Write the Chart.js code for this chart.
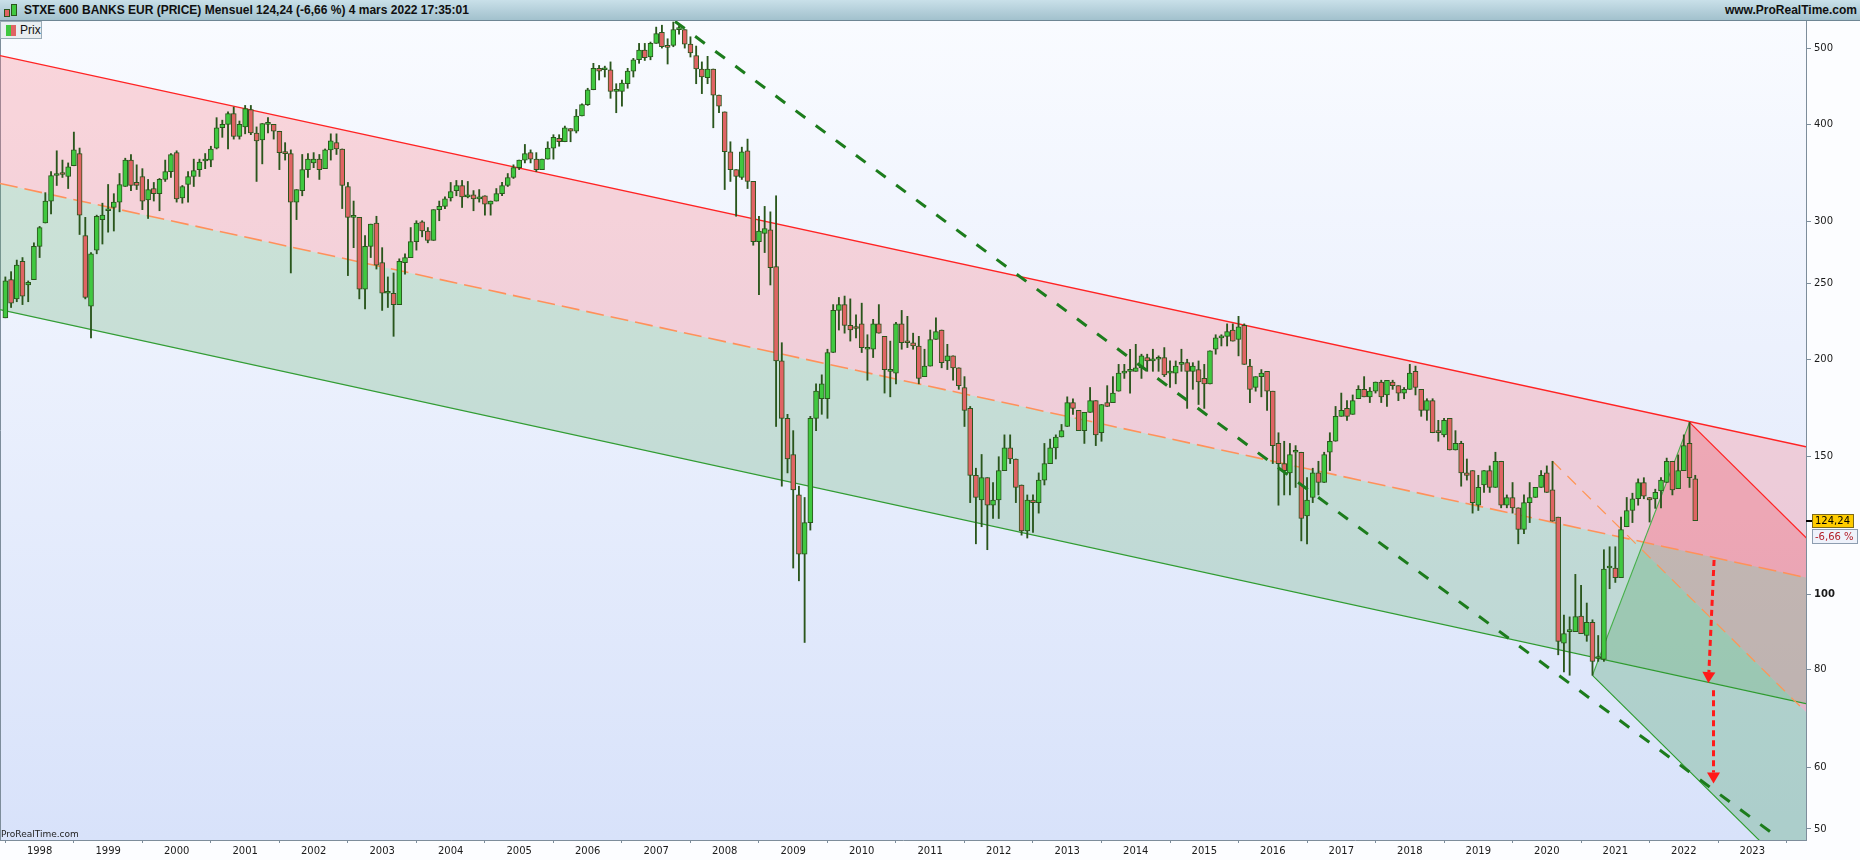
<!DOCTYPE html>
<html lang="fr">
<head>
<meta charset="utf-8">
<title>STXE 600 BANKS EUR (PRICE) Mensuel</title>
<script src="https://cdn.jsdelivr.net/npm/chart.js@4.4.1/dist/chart.umd.min.js"></script>
<style>
  html, body { margin:0; padding:0; background:#fcfdff; }
  #wrap { position:relative; width:1860px; height:860px; overflow:hidden; background:#fcfdff; }
  #chartBox { position:absolute; left:0; top:0; width:1860px; height:860px; }
  #hdr { position:absolute; left:0; top:0; width:1860px; height:21px; box-sizing:border-box;
         background:linear-gradient(#c9e0e9,#a2c1cd); border-bottom:1px solid #6e8694;
         font:bold 12px 'Liberation Sans', Arial, sans-serif; color:#101010; }
  #hdr .t { position:absolute; left:24px; top:4px; white-space:nowrap; line-height:13px; }
  #hdr .r { position:absolute; right:3px; top:4px; white-space:nowrap; line-height:13px; }
  .ic { position:absolute; box-sizing:border-box; border:1px solid #2a561c; }
  #prix { position:absolute; left:0; top:21px; width:42px; height:18px; box-sizing:border-box;
          background:#e9eef1; border:1px solid #9aabb6; font:12px 'Liberation Sans', Arial, sans-serif; color:#111; }
  #prix .g { position:absolute; left:5px; top:3px; width:5px; height:11px; background:#40c840; }
  #prix .rr { position:absolute; left:10px; top:3px; width:5px; height:11px; background:#e06464; }
  #prix .tx { position:absolute; left:19px; top:1px; line-height:14px; }
  #foot { position:absolute; left:1px; top:829px; font:9px 'DejaVu Sans', sans-serif; color:#222; }
</style>
</head>
<body>
<div id="wrap">
  <div id="chartBox"><canvas id="c"></canvas></div>
  <div id="hdr">
    <div class="ic" style="left:4px;top:9px;width:6px;height:8px;background:#e06464;"></div>
    <div class="ic" style="left:11px;top:4px;width:6px;height:12px;background:#40c840;"></div>
    <div class="t">STXE 600 BANKS EUR (PRICE) Mensuel 124,24 (-6,66 %) 4 mars 2022 17:35:01</div>
    <div class="r">www.ProRealTime.com</div>
  </div>
  <div id="prix"><div class="g"></div><div class="rr"></div><div class="tx">Prix</div></div>
  <div id="foot">ProRealTime.com</div>
</div>
<script>
// ---------------- DATA (monthly candles, first = July 1997) ----------------
const startYear = 1997, startMonth = 7;
const open = [
  /*1997*/ 226,253,239,267,249,253,
  /*1998*/ 279,299,319,344,347,343,354,367,288,234,276,302,
  /*1999*/ 310,313,318,333,360,337,343,320,331,326,340,348,
  /*2000*/ 368,322,335,343,350,359,360,373,396,400,413,386,
  /*2001*/ 397,418,390,382,400,400,392,368,367,318,329,350,
  /*2002*/ 357,361,351,371,379,372,333,304,304,246,279,299,
  /*2003*/ 266,243,243,235,266,270,283,300,292,284,311,314,
  /*2004*/ 322,329,334,323,325,321,324,316,319,326,334,342,
  /*2005*/ 352,360,368,361,350,361,373,384,380,395,392,410,
  /*2006*/ 424,443,472,470,470,441,441,451,468,484,498,488,
  /*2007*/ 508,525,504,505,529,529,507,490,471,459,471,436,
  /*2008*/ 415,369,350,342,370,338,283,290,293,263,199,168,
  /*2009*/ 151,134,112.5,123.5,168,178,178,204,231,235,221,220,
  /*2010*/ 222,206,206,222,214,193,192,222,211,210,208,190,
  /*2011*/ 196,212,218,199,202,195,184,173,142,132,141,130,
  /*2012*/ 132,144,154,149,138,120.5,132,131,140,147,154,159,
  /*2013*/ 164,176,172,162,171,177,161,176,176,182,192,193,
  /*2014*/ 193,195,201,199,200,201,192,192,197,198,193,194,
  /*2015*/ 189,186,206,213,214,218,212,221,196,184,190,193,
  /*2016*/ 182,156,147,143,152,152,126,133,143,139,152,157,
  /*2017*/ 169,173,170,178,183,179,182,187,180,187,185,181,
  /*2018*/ 183,193,183,172,177,162,160,168,153,156,143,144,
  /*2019*/ 130,138,144,137,148,130,133,129,121,131,133,137,
  /*2020*/ 143,136,125.5,86.5,89.5,89.5,93.7,88.5,92,82.7,82.5,108,
  /*2021*/ 108,105,122,128,132.5,139,133,132.4,135.6,139,148,136.5,
  /*2022*/ 144,156,140.5
];
const high = [
  /*1997*/ 255,259,268,270,252,282,
  /*1998*/ 296,327,348,370,360,357,391,373,304,274,306,317,
  /*1999*/ 335,326,346,362,366,355,351,340,337,341,360,367,
  /*2000*/ 370,334,348,361,361,367,375,408,405,415,421,404,
  /*2001*/ 423,423,397,401,408,400,392,379,371,330,366,367,
  /*2002*/ 368,366,372,389,389,372,337,319,304,288,298,305,
  /*2003*/ 278,255,258,269,273,295,301,301,295,311,319,323,
  /*2004*/ 337,339,339,338,329,330,324,319,331,337,346,355,
  /*2005*/ 360,377,371,368,361,380,388,388,398,395,418,425,
  /*2006*/ 445,479,476,475,481,451,456,472,486,508,508,510,
  /*2007*/ 533,536,515,541,535,529,518,504,481,489,471,436,
  /*2008*/ 415,380,350,374,383,338,305,314,309,324,210,170,
  /*2009*/ 162,137.5,133,169,186,191,206,235,240,241,239,228,
  /*2010*/ 236,215,225,235,214,211,223,231,227,216,214,206,
  /*2011*/ 218,226,218,209,202,195,190,174,145,151,141,139,
  /*2012*/ 150,160,160,149,138,134,134,143,156,158,160,165,
  /*2013*/ 179,178,172,171,184,177,175,185,190,197,197,206,
  /*2014*/ 209,203,203,206,202,207,199,199,206,200,198,199,
  /*2015*/ 197,205,215,215,222,222,227,222,200,190,194,193,
  /*2016*/ 182,161,157,156,155,152,141,145,148,152,161,174,
  /*2017*/ 181,177,180,185,190,184,187,188,188,188,185,184,
  /*2018*/ 197,196,183,178,178,167,168,168,162,157,149,144,
  /*2019*/ 142,144,146,152,148,134,139,129,134,139,137,144,
  /*2020*/ 146,148,125.5,94,93.5,106,102.6,97.4,92.7,88.5,114,115,
  /*2021*/ 115,125.5,133,134.7,140.5,141,133,136.3,141,149.4,148,150.8,
  /*2022*/ 160,166,142
];
const low = [
  /*1997*/ 226,233,237,235,237,253,
  /*1998*/ 270,299,307,334,342,331,354,289,239,213,273,281,
  /*1999*/ 291,292,309,333,329,330,311,303,319,310,338,342,
  /*2000*/ 318,317,318,333,343,351,353,372,385,372,383,383,
  /*2001*/ 389,388,338,356,390,383,350,360,258,302,324,342,
  /*2002*/ 352,340,351,360,366,312,256,278,239,232,270,261,
  /*2003*/ 231,233,214,235,257,270,276,287,282,284,301,312,
  /*2004*/ 319,324,313,322,310,318,306,306,319,324,333,341,
  /*2005*/ 350,357,357,348,350,361,361,375,380,380,390,410,
  /*2006*/ 423,443,456,460,432,414,422,445,460,479,483,484,
  /*2007*/ 508,501,478,503,522,501,488,451,438,451,396,414,
  /*2008*/ 330,338,305,340,331,280,242,274,249,164,137.5,143,
  /*2009*/ 108,104,86.7,120.8,162,170,168,204,218,216,211,213,
  /*2010*/ 204,188,201,216,181,179,186,206,207,206,186,190,
  /*2011*/ 196,212,195,194,188,183,164,131,116,122,114,125,
  /*2012*/ 125,144,147,131,119,118,120,127,138,147,149,159,
  /*2013*/ 164,170,162,156,171,155,157,174,176,182,189,181,
  /*2014*/ 193,189,193,193,193,190,184,186,193,173,183,175,
  /*2015*/ 173,186,203,208,208,211,202,197,176,182,179,172,
  /*2016*/ 147,130,134,134,137,117,116,131,134,139,144,157,
  /*2017*/ 169,167,170,178,179,176,181,176,174,183,177,178,
  /*2018*/ 183,180,169,167,161,157,159,153,153,137.5,140,127,
  /*2019*/ 128,135,135,137,129,129,127,116,119.5,123.5,133,137,
  /*2020*/ 135,124,83.6,79.5,78.7,89.5,89,87,78.7,82,82,101.6,
  /*2021*/ 103.5,105,122,123.5,130,132.5,123.7,128.8,129,139,134,136.5,
  /*2022*/ 144,137,124.24
];
const close = [
  /*1997*/ 252,236,264,241,251,279,
  /*1998*/ 295,319,344,346,345,353,371,306,240,273,305,306,
  /*1999*/ 310,318,335,360,334,334,319,330,326,340,348,366,
  /*2000*/ 321,333,343,349,358,360,372,396,400,413,386,400,
  /*2001*/ 419,390,381,401,400,392,368,367,318,330,350,361,
  /*2002*/ 361,350,371,381,372,334,304,305,246,279,298,264,
  /*2003*/ 243,244,235,267,270,283,299,292,284,311,314,321,
  /*2004*/ 328,334,323,325,321,323,316,319,326,334,342,352,
  /*2005*/ 360,367,361,350,361,373,385,380,396,392,410,424,
  /*2006*/ 443,472,468,470,441,442,452,468,484,498,487,508,
  /*2007*/ 523,503,502,529,530,507,494,471,460,471,436,422,
  /*2008*/ 369,350,343,369,338,283,292,294,262,199,168,149,
  /*2009*/ 136,112.5,123.5,168,182,186,204,231,235,221,218,219,
  /*2010*/ 207,206.5,222,216,194,193,222,210,210,208,189,196,
  /*2011*/ 212,217,198,202,195,185,172,142,133,141,130,132,
  /*2012*/ 144,154,149,137,120.5,132,131,140,147,154,159,162,
  /*2013*/ 176,173,162,171,177,160,175,174,181,192,193,193.5,
  /*2014*/ 195,202,199,199,201,191,192,196,198,193,196,187,
  /*2015*/ 186,205,213,214,217,211,220,197,183,190,192,182,
  /*2016*/ 155,147,144,151,152,125,132,143,139,151,157,169,
  /*2017*/ 172,169,177,183,179,182,187,179,188,185,181,183,
  /*2018*/ 192,184,172,177,161,161,167,153,156,143,142,131,
  /*2019*/ 137,144,137,148,130,133,129,121,131,133,137,142,
  /*2020*/ 135,124,87,89,89.6,93.6,89,92,82,82.8,107.7,108.3,
  /*2021*/ 105,121,128,132.5,139,133.5,132,135,140,148,136,144,
  /*2022*/ 155,141,124.24
];
const dailyChangePct = -6.66;

// axes (x = months since January 1998)
const yearTicks = [1998,1999,2000,2001,2002,2003,2004,2005,2006,2007,2008,2009,2010,2011,2012,2013,2014,2015,2016,2017,2018,2019,2020,2021,2022,2023];
const priceTicks = [50,60,80,100,150,200,250,300,400,500];
const xRange = [-6.94, 309.4];
const yRange = [48.4, 542.7];

// regression channel (prices at left and right edge of the plot)
const channelUpper = [490, 154.5];
const channelMid   = [336, 105];
const channelLower = [231.5, 72.4];

// long dashed trend line from the 2007 top (month, price)
const trendMonths = [111.3, 304.1];
const trendPrices = [542, 49];

// Andrews pitchfork anchors: pivot (Feb 2020 high), low (Sep 2020), high (Feb 2022)
const forkMonths = [265, 272, 289];
const forkPrices = [148, 78.7, 166];

// red projection arrows (month, price) start -> tip
const arrowMonths = [[293.3, 292.3], [293.2, 293.2]];
const arrowPrices = [[110.6, 76.9], [75.3, 57.2]];

// ---------------- BUILD ----------------
const m0 = (startYear - 1998) * 12 + (startMonth - 1);
const xs = open.map((_, i) => m0 + i);
const GREEN = '#40c840', RED = '#e06464', EDGE = '#2a561c';
const wickData = xs.map((x, i) => ({ x, y: [low[i], high[i]] }));
const bodyData = xs.map((x, i) => ({ x, y: [open[i], close[i]] }));
const bodyColors = xs.map((_, i) => close[i] >= open[i] ? GREEN : RED);

const L = v => Math.log10(v);
const P = { x: forkMonths[0], l: L(forkPrices[0]) };
const A = { x: forkMonths[1], l: L(forkPrices[1]) };
const B = { x: forkMonths[2], l: L(forkPrices[2]) };
const M = { x: (A.x + B.x) / 2, l: (A.l + B.l) / 2 };
const slope = (M.l - P.l) / (M.x - P.x);
const xEnd = xRange[1] + 4;
const at = (pt, x) => Math.pow(10, pt.l + slope * (x - pt.x));
const pfMedian = [{ x: P.x, y: Math.pow(10, P.l) }, { x: xEnd, y: at(P, xEnd) }];
const pfUpper  = [{ x: B.x, y: Math.pow(10, B.l) }, { x: xEnd, y: at(B, xEnd) }];
const pfLower  = [{ x: A.x, y: Math.pow(10, A.l) }, { x: xEnd, y: at(A, xEnd) }];
const pfConnect = [{ x: A.x, y: Math.pow(10, A.l) }, { x: B.x, y: Math.pow(10, B.l) }];
const mid = { x: M.x, y: Math.pow(10, M.l) };
const upperPoly = [pfUpper[0], pfUpper[1], pfMedian[1], mid];
const lowerPoly = [mid, pfMedian[1], pfLower[1], pfLower[0]];

function lineDS(data, color, width, dash, order, extra) {
  return Object.assign({ type: 'line', data, borderColor: color, borderWidth: width, borderDash: dash || [],
    pointRadius: 0, pointHoverRadius: 0, fill: false, tension: 0, order }, extra || {});
}

const datasets = [
  lineDS([{ x: xRange[0], y: channelUpper[0] }, { x: xRange[1], y: channelUpper[1] }], '#ff2323', 1.4, null, 10,
    { fill: { target: '+1' }, backgroundColor: 'rgba(255,118,125,0.28)' }),
  lineDS([{ x: xRange[0], y: channelMid[0] }, { x: xRange[1], y: channelMid[1] }], '#ff9655', 1.6, [18, 7], 10,
    { fill: { target: '+1' }, backgroundColor: 'rgba(100,175,112,0.27)' }),
  lineDS([{ x: xRange[0], y: channelLower[0] }, { x: xRange[1], y: channelLower[1] }], '#2a9a2a', 1.3, null, 10),
  lineDS(pfConnect, '#46b04a', 1.1, null, 8),
  lineDS(pfMedian, '#ff9655', 1.2, [12, 9], 8),
  lineDS(pfUpper, '#ff2323', 1.3, null, 8),
  lineDS(pfLower, '#2a9a2a', 1.1, null, 8),
  { type: 'bar', data: wickData, backgroundColor: EDGE, borderWidth: 0, barThickness: 1.2, grouped: false, order: 2 },
  { type: 'bar', data: bodyData, backgroundColor: bodyColors, borderColor: EDGE, borderWidth: 1, borderSkipped: false,
    barThickness: 5, minBarLength: 2, grouped: false, order: 1 },
  lineDS([{ x: trendMonths[0], y: trendPrices[0] }, { x: trendMonths[1], y: trendPrices[1] }], '#1c7c1c', 3, [12, 13], 0)
];

const bgPlugin = {
  id: 'bg',
  beforeDraw(chart) {
    const { ctx, chartArea: a } = chart;
    ctx.save();
    ctx.fillStyle = '#fcfdff';
    ctx.fillRect(0, 0, chart.width, chart.height);
    const g = ctx.createLinearGradient(0, a.top, 0, a.bottom);
    g.addColorStop(0, '#f9fbff');
    g.addColorStop(1, '#d8e2fa');
    ctx.fillStyle = g;
    ctx.fillRect(a.left, a.top, a.right - a.left, a.bottom - a.top);
    ctx.strokeStyle = '#7d8d9b';
    ctx.lineWidth = 1;
    ctx.beginPath(); ctx.moveTo(0.5, a.top); ctx.lineTo(0.5, a.bottom); ctx.stroke();
    ctx.restore();
  }
};

const forkPlugin = {
  id: 'fork',
  beforeDatasetsDraw(chart) {
    const { ctx, chartArea: a, scales: { x, y } } = chart;
    ctx.save();
    ctx.beginPath(); ctx.rect(a.left, a.top, a.right - a.left, a.bottom - a.top); ctx.clip();
    const poly = (pts, color) => {
      ctx.beginPath();
      pts.forEach((p, i) => {
        const px = x.getPixelForValue(p.x), py = y.getPixelForValue(p.y);
        if (i) ctx.lineTo(px, py); else ctx.moveTo(px, py);
      });
      ctx.closePath(); ctx.fillStyle = color; ctx.fill();
    };
    poly(upperPoly, 'rgba(232,70,90,0.30)');
    poly(lowerPoly, 'rgba(70,160,95,0.30)');
    ctx.restore();
  }
};

const overlayPlugin = {
  id: 'overlay',
  afterDraw(chart) {
    const { ctx, chartArea: a, scales: { x, y } } = chart;
    ctx.save();
    ctx.beginPath(); ctx.rect(a.left, a.top, a.right - a.left, a.bottom - a.top); ctx.clip();
    arrowMonths.forEach((mm, k) => {
      const x0 = x.getPixelForValue(mm[0]), y0 = y.getPixelForValue(arrowPrices[k][0]);
      const x1 = x.getPixelForValue(mm[1]), y1 = y.getPixelForValue(arrowPrices[k][1]);
      const ang = Math.atan2(y1 - y0, x1 - x0);
      const head = 11, hw = 6.5;
      const bx = x1 - head * Math.cos(ang), by = y1 - head * Math.sin(ang);
      ctx.strokeStyle = '#ff1a1a'; ctx.fillStyle = '#ff1a1a';
      ctx.lineWidth = 3; ctx.setLineDash([6, 4]);
      ctx.beginPath(); ctx.moveTo(x0, y0); ctx.lineTo(bx, by); ctx.stroke();
      ctx.setLineDash([]);
      ctx.beginPath();
      ctx.moveTo(x1, y1);
      ctx.lineTo(bx + hw * Math.sin(ang), by - hw * Math.cos(ang));
      ctx.lineTo(bx - hw * Math.sin(ang), by + hw * Math.cos(ang));
      ctx.closePath(); ctx.fill();
    });
    ctx.restore();

    // last price labels on the right axis
    const last = close[close.length - 1];
    const py = Math.round(y.getPixelForValue(last));
    ctx.save();
    ctx.fillStyle = '#000';
    ctx.fillRect(a.right, py - 1, 6, 2);
    ctx.fillStyle = '#ffcc00';
    ctx.fillRect(a.right + 6, py - 7, 42, 14);
    ctx.strokeStyle = '#7d6a1a'; ctx.lineWidth = 1;
    ctx.strokeRect(a.right + 6.5, py - 6.5, 41, 13);
    ctx.font = "10px 'DejaVu Sans', sans-serif";
    ctx.textBaseline = 'middle'; ctx.textAlign = 'left';
    ctx.fillStyle = '#000';
    ctx.fillText(last.toFixed(2).replace('.', ','), a.right + 9, py);
    ctx.fillStyle = '#eef2fb';
    ctx.fillRect(a.right + 6, py + 8, 46, 15);
    ctx.strokeStyle = '#8d9db0';
    ctx.strokeRect(a.right + 6.5, py + 8.5, 45, 14);
    ctx.fillStyle = '#b3202a';
    ctx.fillText(dailyChangePct.toFixed(2).replace('.', ',') + ' %', a.right + 9, py + 16);
    ctx.restore();
  }
};

new Chart(document.getElementById('c'), {
  type: 'bar',
  data: { datasets },
  options: {
    responsive: true, maintainAspectRatio: false, animation: false, devicePixelRatio: 1,
    layout: { padding: { top: 21, left: 0, right: 0, bottom: 0 } },
    plugins: { legend: { display: false }, tooltip: { enabled: false } },
    scales: {
      x: {
        type: 'linear', min: xRange[0], max: xRange[1], offset: false, position: 'bottom',
        afterFit: s => { s.height = 20; },
        afterBuildTicks: s => { s.ticks = yearTicks.map(yr => ({ value: (yr - 1998) * 12 })); },
        ticks: { autoSkip: false, maxRotation: 0, minRotation: 0, padding: 2, color: '#1a1a1a',
          font: { family: "'DejaVu Sans', sans-serif", size: 10 },
          callback: v => String(1998 + Math.round(v / 12)) },
        grid: { drawOnChartArea: false, drawTicks: true, tickLength: 3, color: '#7d8d9b' },
        border: { display: true, color: '#7d8d9b' }
      },
      y: {
        type: 'logarithmic', position: 'right', min: yRange[0], max: yRange[1],
        afterFit: s => { s.width = 54; },
        afterBuildTicks: s => { s.ticks = priceTicks.map(v => ({ value: v })); },
        ticks: { autoSkip: false, padding: 3, color: '#1a1a1a',
          font: c => ({ family: "'DejaVu Sans', sans-serif", size: 10, weight: (c.tick && c.tick.value === 100) ? 'bold' : 'normal' }),
          callback: v => String(v) },
        grid: { drawOnChartArea: false, tickLength: 5, color: '#7d8d9b' },
        border: { display: true, color: '#7d8d9b' }
      }
    }
  },
  plugins: [bgPlugin, forkPlugin, overlayPlugin]
});
</script>
</body>
</html>
